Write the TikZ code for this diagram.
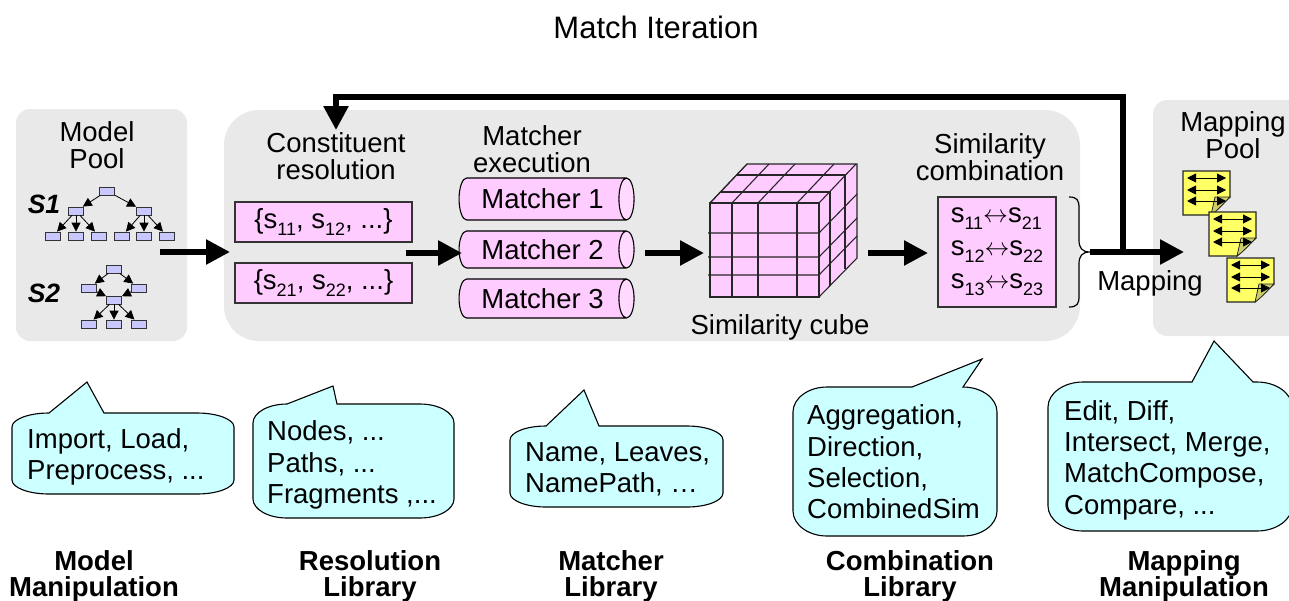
\documentclass[tikz,border=0pt]{standalone}
\usepackage{fontspec}
\setmainfont{Liberation Sans}
\usetikzlibrary{arrows.meta,shapes.geometric,scopes}
\definecolor{poolgray}{HTML}{E9E9E9}
\definecolor{rose}{HTML}{FFCCFF}
\definecolor{roselt}{HTML}{FFD9FF}
\definecolor{sky}{HTML}{CCFFFF}
\definecolor{lav}{HTML}{C8C8FF}
\definecolor{notey}{HTML}{FFFF66}
\definecolor{notefold}{HTML}{CCCC66}
\tikzset{
  >= latex,
  pl/.style={fill=poolgray, rounded corners=#1, inner sep=0pt},
  tx/.style={font=\fontsize{27.5}{27}\selectfont, inner sep=0pt, align=center, anchor=base},
  bf/.style={font=\fontsize{27.5}{26}\selectfont\bfseries, inner sep=0pt, align=center, anchor=base},
  sn/.style={font=\fontsize{26.5}{26}\selectfont\bfseries\itshape, inner sep=0pt, anchor=base},
  bl/.style={font=\fontsize{27.5}{31.3}\selectfont, inner sep=0pt, align=left, anchor=west},
  rb/.style={draw=black!80, fill=rose, line width=1.2pt, inner sep=0pt, font=\fontsize{27.5}{27}\selectfont},
  cy/.style={cylinder, draw=black, line width=1.1pt, shape aspect=.75, cylinder uses custom fill,
    cylinder body fill=rose, cylinder end fill=roselt, minimum width=#1, minimum height=175pt,
    inner sep=0pt, font=\fontsize{27.5}{27}\selectfont},
  tn/.style={draw=black!80, fill=lav, line width=.8pt, minimum width=15pt, minimum height=8pt, inner sep=0pt},
  ba/.style={line width=5.5pt, -{Triangle[length=24pt,width=24pt]}},
  ta/.style={line width=.8pt, -{Triangle[length=9pt,width=9pt]}},
  na/.style={line width=.9pt, {Triangle[length=9pt,width=9pt]}-{Triangle[length=9pt,width=9pt]}},
  cb/.style={draw=black!85, line width=1.1pt},
  bb/.style={draw=black, fill=sky, line width=1.1pt}
}
\newcommand{\idx}[1]{\raisebox{-7pt}{\fontsize{18}{18}\selectfont #1}}
% x0, y0, x1, y1, rx, ry, pointer left, tip, pointer right
\newcommand{\bubble}[9]{
  \path[bb] (#1+#5,#2) -- (#7,#2) -- (#8) -- (#9,#2) -- (#3-#5,#2)
    .. controls (#3-#5*.45,#2) and (#3,#2+#6*.45) .. (#3,#2+#6) -- (#3,#4-#6)
    .. controls (#3,#4-#6*.45) and (#3-#5*.45,#4) .. (#3-#5,#4) -- (#1+#5,#4)
    .. controls (#1+#5*.45,#4) and (#1,#4-#6*.45) .. (#1,#4-#6) -- (#1,#2+#6)
    .. controls (#1,#2+#6*.45) and (#1+#5*.45,#2) .. (#1+#5,#2) -- cycle;
}

\begin{document}
\begin{tikzpicture}[x=1pt, y=-1pt]
  \useasboundingbox (0,0) rectangle (1289,600);
  \node[tx] (title) at (656,38) {\fontsize{31}{31}\selectfont Match Iteration};

  \node[pl=14pt, minimum width=171pt, minimum height=232pt] (mp) at (101.5,225) {};
  \node[pl=35pt, minimum width=856pt, minimum height=231pt] (ms) at (652,225.5) {};
  \node[pl=14pt, minimum width=170pt, minimum height=236pt] (mg) at (1238,218) {};

  \node[tx] (mptx) at (97,168) {Model\\Pool};
  \node[tx] (crtx) at (336,179) {Constituent\\resolution};
  \node[tx] (metx) at (532,172) {Matcher\\execution};
  \node[tx] (sctx) at (990,180) {Similarity\\combination};
  \node[tx] (mgtx) at (1233,158) {Mapping\\Pool};
  \node[tx] (cbtx) at (780,334) {Similarity cube};
  \node[tx] (matx) at (1150,290) {Mapping};
  \node[sn] (s1) at (44,213) {S1};
  \node[sn] (s2) at (44,302) {S2};

  % schema trees
  \foreach \nm/\x/\y in {a/107/191, b1/76/211, b2/144/211, c1/53/236, c2/76/236, c3/99/236,
      c4/122/236, c5/144/236, c6/167/236,
      d/114/269, e1/89/288, e2/139/288, f/114/300, g1/89/324, g2/114/324, g3/139/324}
    \node[tn] (\nm) at (\x,\y) {};
  \foreach \p/\q in {a/b1, a/b2, b1/c1, b1/c2, b1/c3, b2/c4, b2/c5, b2/c6,
      d/e1, d/e2, e1/f, e2/f, f/g1, f/g2, f/g3}
    \draw[ta] (\p) -- (\q);

  \node[rb, minimum width=177pt, minimum height=40pt] (r1) at (323.5,222) {\{s\idx{11}, s\idx{12}, ...\}};
  \node[rb, minimum width=177pt, minimum height=40pt] (r2) at (323.5,283) {\{s\idx{21}, s\idx{22}, ...\}};

  \node[cy=42pt] (m1) at (542.5,199) {Matcher 1};
  \node[cy=37pt] (m2) at (542.5,249.5) {Matcher 2};
  \node[cy=39pt] (m3) at (542.5,298.5) {Matcher 3};

  % cube
  \path[cb, fill=rose] (710,203) -- (747,164) -- (857,164) -- (857,258) -- (819,297) -- (710,297) -- cycle;
  \foreach \d/\e in {11/11, 26/28}{
    \draw[cb] (710+\d,203-\e) -- (819+\d,203-\e) -- (819+\d,297-\e);
  }
  \foreach \x in {710,732,758,797,819}
    \draw[cb] (\x,203) -- +(37,-39);
  \foreach \y in {233,257,275}{
    \draw[cb] (708,\y) -- (819,\y) -- +(38,-39);
  }
  \draw[cb] (710,203) rectangle (819,297);
  \foreach \x in {732,758,797}
    \draw[cb] (\x,203) -- (\x,297);

  \node[rb, minimum width=118pt, minimum height=110pt, align=left,
        font=\fontsize{27.5}{33}\selectfont] (sc) at (997,252)
    {s\idx{11}$\leftrightarrow$s\idx{21}\\s\idx{12}$\leftrightarrow$s\idx{22}\\s\idx{13}$\leftrightarrow$s\idx{23}};

  % brace
  \coordinate (bt) at (1090,252);
  \draw[line width=1.2pt] (1069,197) .. controls (1077,197) and (1079,200) .. (1079,208) -- (1079,240)
    .. controls (1079,248) and (1082,252) .. (bt)
    .. controls (1082,252) and (1079,256) .. (1079,264) -- (1079,296)
    .. controls (1079,304) and (1077,307) .. (1069,307);

  % mapping notes
  \foreach \x/\y in {1183/171, 1209/212, 1227/258}{
    \path[draw=black!85, fill=notey, line width=1.1pt] (\x,\y) -- +(47,0) -- +(47,26) -- +(28,44) -- +(0,44) -- cycle;
    \path[draw=black!85, fill=notefold, line width=.8pt] (\x+47,\y+26) -- +(-15,0) -- +(-19,18)
      .. controls (\x+34,\y+40) and (\x+40,\y+33) .. (\x+47,\y+26) -- cycle;
    \foreach \d in {7,19,30}{
      \coordinate (nl) at (\x+4,\y+\d);
      \coordinate (nr) at (\x+43,\y+\d);
      \draw[na] (nl) -- (nr);
    }
  }

  \coordinate (a1s) at (160,252);
  \coordinate (a1e) at (230,252);
  \coordinate (a2s) at (406,253);
  \coordinate (a2e) at (462,253);
  \coordinate (a3s) at (645,253);
  \coordinate (a3e) at (704,253);
  \coordinate (a4s) at (868,253);
  \coordinate (a4e) at (928,253);
  \coordinate (a5e) at (1184,252);
  \coordinate (fbs) at (1123,252);
  \coordinate (fbc) at (336,97);
  \coordinate (fbt) at (336,130);
  {[ba]
    \draw (a1s) -- (a1e);
    \draw (a2s) -- (a2e);
    \draw (a3s) -- (a3e);
    \draw (a4s) -- (a4e);
    \draw (bt) -- (a5e);
    \draw (fbs) |- (fbc) -- (fbt);
  }

  \bubble{12}{413}{234}{494}{37}{14}{49}{87,382}{104}
  \bubble{253}{404}{454}{518}{34}{19}{287}{333,386}{337}
  \bubble{510}{426}{723}{507}{36}{14}{546}{584,390}{599}
  \bubble{793}{387}{997}{536}{34}{25}{912}{982,359}{963}
  \bubble{1048}{382}{1292}{531}{35}{25}{1192}{1214,341}{1253}

  \node[bl] (b1tx) at (27,457) {Import, Load,\\Preprocess, ...};
  \node[bl] (b2tx) at (267,465) {Nodes, ...\\Paths, ...\\Fragments ,...};
  \node[bl] (b3tx) at (525,469) {Name, Leaves,\\NamePath, \dots};
  \node[bl] (b4tx) at (807,462) {Aggregation,\\Direction,\\Selection,\\CombinedSim};
  \node[bl] (b5tx) at (1064,460) {Edit, Diff,\\Intersect, Merge,\\MatchCompose,\\Compare, ...};

  \node[bf] (l1) at (94,596) {Model\\Manipulation};
  \node[bf] (l2) at (370,596) {Resolution\\Library};
  \node[bf] (l3) at (611,596) {Matcher\\Library};
  \node[bf] (l4) at (910,596) {Combination\\Library};
  \node[bf] (l5) at (1184,596) {Mapping\\Manipulation};
\end{tikzpicture}
\end{document}
